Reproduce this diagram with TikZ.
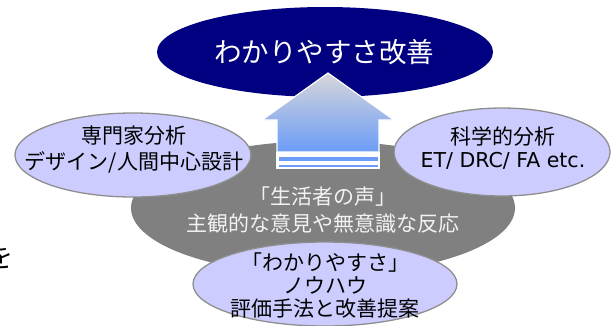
\documentclass[tikz,border=0pt]{standalone}
\usepackage{fontspec}
\setmainfont{Noto Sans CJK JP}
\newfontfamily\latinsans{DejaVu Sans}
\usetikzlibrary{shapes.geometric}
\definecolor{navy}{HTML}{000080}
\definecolor{lav}{HTML}{CCCCFF}
\definecolor{grayell}{HTML}{808080}
\definecolor{rim}{HTML}{8E8E8E}
\definecolor{arrtop}{HTML}{D6D6D8}
\definecolor{arrbot}{HTML}{6C9CF8}
\definecolor{paletxt}{HTML}{F2F2F2}
\begin{document}
\begin{tikzpicture}[x=1pt,y=-1pt,
  ell/.style={ellipse, inner sep=0pt, outer sep=0pt},
  lavell/.style={ell, fill=lav, draw=rim, line width=1.3pt},
  smalltxt/.style={align=center, inner sep=0pt, font=\fontsize{21}{#1}\selectfont},
  smalltxt/.default=23]
\useasboundingbox (0,0) rectangle (611,325);
\fill[white] (0,0) rectangle (611,325);
% partial character at left edge
\node[anchor=east, inner sep=0pt, font=\fontsize{27}{27}\selectfont] (wo) at (14,257) {を};
% big grey ellipse
\node[ell, fill=grayell, minimum width=384pt, minimum height=134pt] (voice) at (323,208) {};
% side ellipses
\node[lavell, minimum width=236pt, minimum height=84pt] (expert) at (133,155) {};
\node[lavell, minimum width=216pt, minimum height=88pt] (science) at (502,152) {};
\node[lavell, minimum width=264pt, minimum height=84pt] (knowhow) at (325,284) {};
% top ellipse
\node[ell, fill=navy, minimum width=336pt, minimum height=90pt] (goal) at (325,52) {};
% arrow
\shade[top color=arrtop, bottom color=arrbot, draw=white, line width=1.2pt]
  (277,152) -- (277,120) -- (262,120) -- (328,73) -- (394,120) -- (379,120) -- (379,152) -- cycle;
\fill[white] (276.4,152) rectangle (379.6,168.6);
\fill[arrbot] (278.5,156.6) rectangle (377.5,161.2);
\fill[arrbot] (278.5,165.4) rectangle (377.5,167.2);
% texts
\node[inner sep=0pt, text=white, font=\fontsize{27.5}{30}\selectfont] (goaltxt) at (324,52) {わかりやすさ改善};
\node[smalltxt=26] (experttxt) at (134,150) {専門家分析\\デザイン/人間中心設計};
\node[smalltxt=23] (sciencetxt) at (503,148.5) {科学的分析\\{\latinsans\fontsize{20.5}{23}\selectfont ET/ DRC/ FA etc.}};
\node[smalltxt=27, text=paletxt] (voicetxt) at (323,210) {「生活者の声」\\主観的な意見や無意識な反応};
\node[smalltxt=23] (knowhowtxt) at (325,285) {「わかりやすさ」\\ノウハウ\\評価手法と改善提案};
\end{tikzpicture}
\end{document}
